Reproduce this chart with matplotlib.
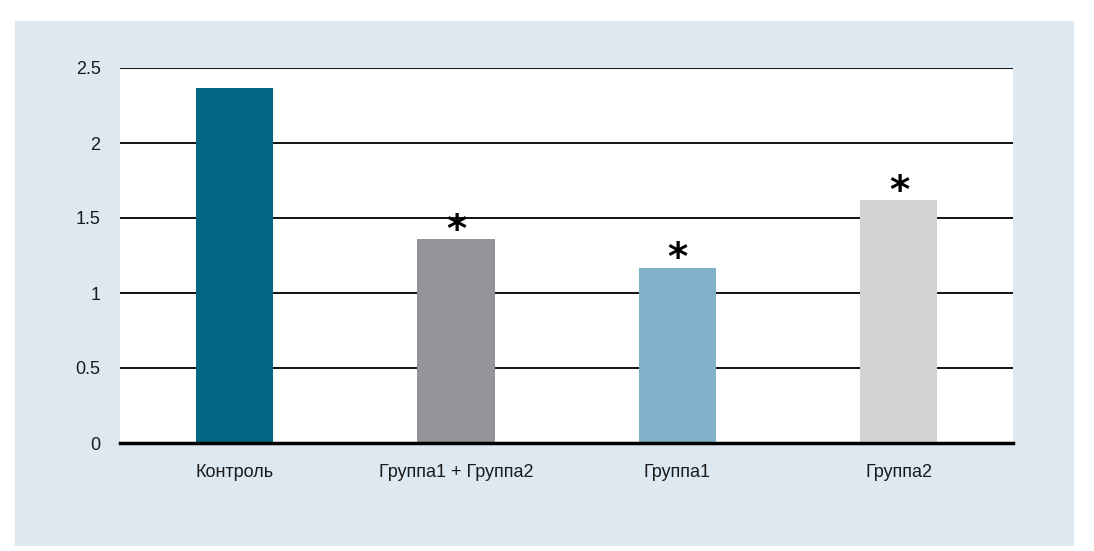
import matplotlib.pyplot as plt
from matplotlib.patches import Rectangle

categories = ['Контроль', 'Группа1 + Группа2', 'Группа1', 'Группа2']
values = [2.37, 1.36, 1.17, 1.62]
significant = [False, True, True, True]
colors = ['#006681', '#939598', '#7fb1c8', '#d1d3d4']
yticks = [0, 0.5, 1, 1.5, 2, 2.5]
ytick_labels = ['0', '0.5', '1', '1.5', '2', '2.5']

plt.rcParams['font.family'] = ['Liberation Sans Narrow', 'Liberation Sans', 'DejaVu Sans']

W, H = 1094, 551
fig = plt.figure(figsize=(W / 100, H / 100), dpi=100)
fig.patch.set_facecolor('white')
# light blue panel behind the chart
panel = Rectangle((15 / W, 1 - 546 / H), (1074 - 15) / W, (546 - 21) / H,
                  transform=fig.transFigure, facecolor='#dde8f1',
                  edgecolor='none', zorder=-10)
fig.add_artist(panel)

ax = fig.add_axes([120 / W, 1 - 443 / H, 893 / W, 375 / H])
ax.set_zorder(1)
ax.set_facecolor('white')

x = range(len(categories))
ax.bar(x, values, width=0.348, color=colors, zorder=3)
for i, (v, s) in enumerate(zip(values, significant)):
    if s:
        ax.annotate('*', (i, v), xytext=(0, -2), textcoords='offset points',
                    ha='center', va='baseline', fontsize=28, fontweight='heavy',
                    family='DejaVu Sans', zorder=4)

ax.set_xlim(-0.517, 3.515)
ax.set_ylim(0, 2.5)
ax.set_yticks(yticks)
ax.set_yticklabels(ytick_labels)
ax.set_xticks(list(x))
ax.set_xticklabels(categories)
ax.yaxis.grid(True, color='black', linewidth=1.3, zorder=1)
ax.set_axisbelow(True)
for side in ['top', 'right', 'left']:
    ax.spines[side].set_visible(False)
ax.spines['bottom'].set_linewidth(2.5)
ax.spines['bottom'].set_zorder(5)
ax.tick_params(axis='both', length=0, labelsize=13, colors='#1a1a1a')
ax.tick_params(axis='y', pad=14)
ax.tick_params(axis='x', pad=15)

fig.savefig('out.png', dpi=100, facecolor=fig.get_facecolor())
